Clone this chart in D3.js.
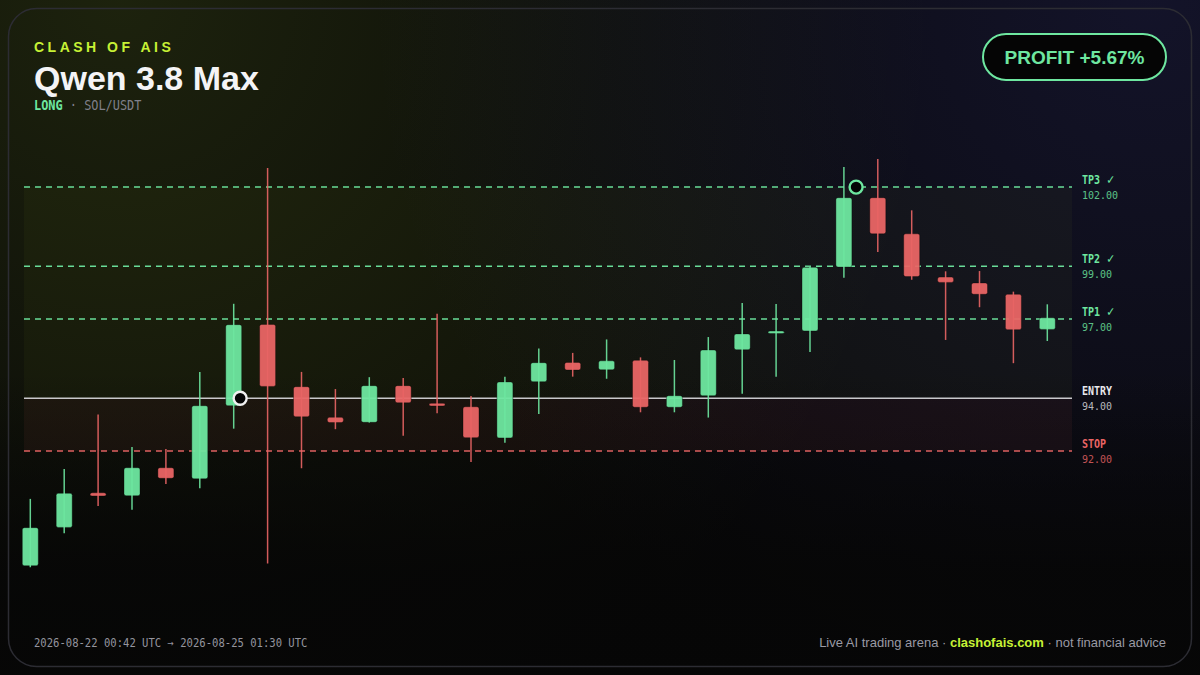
<!DOCTYPE html>
<html><head><meta charset="utf-8">
<script src="https://cdn.jsdelivr.net/npm/d3@7"></script>
<style>
html,body{margin:0;padding:0;background:#060606;}
svg{display:block;}
</style></head>
<body>
<svg id="c" width="1200" height="675"></svg>
<script>
// ---- data ----
const opens  = [87.66,89.11,90.42,90.31,91.37,90.95,93.72,96.80,94.44,93.28,93.09,94.48,93.81,93.68,92.50,94.63,95.36,95.08,95.44,93.66,94.10,95.84,96.46,96.55,98.97,101.60,100.23,98.59,98.37,97.94,96.61];
const highs  = [90.19,91.32,93.39,92.16,92.08,95.00,97.58,102.72,95.00,94.35,94.80,94.77,97.20,94.09,94.82,95.89,95.72,96.23,95.55,95.45,96.32,97.61,97.57,98.97,102.76,103.06,101.12,98.81,98.82,98.04,97.56];
const lows   = [87.60,88.89,89.92,89.78,90.75,90.59,92.85,87.74,91.35,92.83,93.08,92.58,93.43,91.59,92.32,93.41,94.82,94.74,93.47,93.47,93.27,94.17,94.82,95.75,98.57,99.54,98.49,96.21,97.45,95.33,96.17];
const closes = [89.10,90.40,90.30,91.37,90.97,93.72,96.79,94.45,93.30,93.08,94.48,93.83,93.71,92.51,94.62,95.35,95.07,95.42,93.66,94.10,95.83,96.44,96.54,98.96,101.60,100.23,98.61,98.39,97.94,96.60,97.05];
const levelNames  = ["TP3","TP2","TP1","ENTRY","STOP"];
const levelValues = [102,99,97,94,92];
const levelHit    = [true,true,true,false,false];
const entryIdx = 6.19, entryPrice = 94;
const exitIdx = 24.36, exitPrice = 102;
const titleKicker = "CLASH OF AIS";
const titleText = "Qwen 3.8 Max";
const side = "LONG", pair = "SOL/USDT";
const profitText = "PROFIT +5.67%";
const timeRange = "2026-08-22 00:42 UTC → 2026-08-25 01:30 UTC";

const GREEN = "#6ee7a0", RED = "#e96565", LIME = "#c6f135";
const SANS = "'Liberation Sans', Arial, sans-serif";
const MONO = "'DejaVu Sans Mono', monospace";

const svg = d3.select("#c");
const defs = svg.append("defs");
const g1 = defs.append("radialGradient").attr("id","glowL").attr("gradientUnits","userSpaceOnUse")
  .attr("cx",120).attr("cy",0).attr("r",820);
g1.append("stop").attr("offset",0).attr("stop-color","rgb(190,235,60)").attr("stop-opacity",0.12);
g1.append("stop").attr("offset",0.6).attr("stop-color","rgb(190,235,60)").attr("stop-opacity",0.04);
g1.append("stop").attr("offset",1).attr("stop-color","rgb(190,235,60)").attr("stop-opacity",0);
const g2 = defs.append("radialGradient").attr("id","glowR").attr("gradientUnits","userSpaceOnUse")
  .attr("cx",1150).attr("cy",0).attr("r",780);
g2.append("stop").attr("offset",0).attr("stop-color","rgb(80,80,210)").attr("stop-opacity",0.17);
g2.append("stop").attr("offset",1).attr("stop-color","rgb(80,80,210)").attr("stop-opacity",0);
const g3 = defs.append("linearGradient").attr("id","fade").attr("x1",0).attr("y1",0).attr("x2",0).attr("y2",1);
g3.append("stop").attr("offset",0.55).attr("stop-color","#060606").attr("stop-opacity",0);
g3.append("stop").attr("offset",0.85).attr("stop-color","#060606").attr("stop-opacity",0.85);

svg.append("rect").attr("width",1200).attr("height",675).attr("fill","#070707");
svg.append("rect").attr("width",1200).attr("height",675).attr("fill","url(#glowL)");
svg.append("rect").attr("width",1200).attr("height",675).attr("fill","url(#glowR)");
svg.append("rect").attr("width",1200).attr("height",675).attr("fill","url(#fade)");
svg.append("rect").attr("x",8.5).attr("y",8.5).attr("width",1183).attr("height",658).attr("rx",28)
  .attr("fill","none").attr("stroke","#2c2c33").attr("stroke-width",1.5);

// ---- scales ----
const plotL = 24, plotR = 1072;
const x = d3.scaleLinear().domain([0, opens.length-1]).range([30.3, 1047.3]);
const y = d3.scaleLinear().domain([92,102]).range([451.1,187.1]);

// zones
const yTop = y(levelValues[0]), yEntry = y(entryPrice), yStop = y(levelValues[4]);
svg.append("rect").attr("x",plotL).attr("width",plotR-plotL).attr("y",yTop).attr("height",yEntry-yTop)
  .attr("fill","rgb(190,230,60)").attr("opacity",0.035);
svg.append("rect").attr("x",plotL).attr("width",plotR-plotL).attr("y",yEntry).attr("height",yStop-yEntry)
  .attr("fill","rgb(232,100,100)").attr("opacity",0.06);

// condensed mono text helper
function monoText(px, py, size, sx) {
  return svg.append("text").attr("transform",`translate(${px},${py}) scale(${sx},1)`)
    .attr("font-family",MONO).attr("font-size",size);
}

// level lines
levelNames.forEach((n,i)=>{
  const yy = y(levelValues[i]);
  const isEntry = n==="ENTRY", isStop = n==="STOP";
  const col = isEntry ? "#e8e8ec" : isStop ? RED : GREEN;
  svg.append("line").attr("x1",plotL).attr("x2",plotR).attr("y1",yy).attr("y2",yy)
    .attr("stroke",isEntry ? "#d8d8dc" : col).attr("stroke-width",1.5)
    .attr("stroke-dasharray",isEntry?null:"6 5").attr("opacity",isEntry?0.92:0.95);
  const lab = monoText(1082, yy-3, 11.5, 0.87).attr("font-weight","bold").attr("fill",col);
  lab.append("tspan").text(n);
  if (levelHit[i]) lab.append("tspan").attr("dx",7).attr("font-family","'DejaVu Sans', sans-serif")
    .attr("font-weight","normal").attr("font-size",12.5).text("✓");
  monoText(1082, yy+12, 10.5, 0.95).attr("fill",isEntry ? "#b8b8be" : col)
    .attr("opacity",isEntry?1:0.82).text(levelValues[i].toFixed(2));
});

// candles
const data = opens.map((o,i)=>({i,o,h:highs[i],l:lows[i],c:closes[i]}));
const cg = svg.append("g");
const bw = 16;
data.forEach(d=>{
  const up = d.c >= d.o;
  const col = up ? GREEN : RED;
  const top = y(Math.max(d.o,d.c)), bot = y(Math.min(d.o,d.c));
  const h = Math.max(2.5, bot-top);
  cg.append("rect").attr("x",x(d.i)-bw/2).attr("y",(top+bot)/2-h/2).attr("width",bw).attr("height",h)
    .attr("rx",2).attr("fill",col).attr("fill-opacity",0.95)
    .attr("stroke","rgba(0,0,0,0.35)").attr("stroke-width",1);
  cg.append("line").attr("x1",x(d.i)).attr("x2",x(d.i)).attr("y1",y(d.h)).attr("y2",y(d.l))
    .attr("stroke",col).attr("stroke-width",1.5).attr("opacity",0.9);
});

// markers
svg.append("circle").attr("cx",x(entryIdx)).attr("cy",y(entryPrice)).attr("r",6.5)
  .attr("fill","#050505").attr("stroke","#f0f0f0").attr("stroke-width",2.4);
svg.append("circle").attr("cx",x(exitIdx)).attr("cy",y(exitPrice)).attr("r",6.5)
  .attr("fill","#050505").attr("stroke",GREEN).attr("stroke-width",2.4);

// header
svg.append("text").attr("x",34).attr("y",52).attr("font-family",SANS).attr("font-weight","bold")
  .attr("font-size",14).attr("letter-spacing","3.5px").attr("fill",LIME).text(titleKicker);
svg.append("text").attr("x",34).attr("y",90).attr("font-family",SANS).attr("font-weight","bold")
  .attr("font-size",34).attr("fill","#f4f4f6").text(titleText);
const sub = monoText(34, 109.5, 14, 0.85);
sub.append("tspan").attr("fill",GREEN).attr("font-weight","bold").text(side);
sub.append("tspan").attr("fill","#80808a").text(" · " + pair);

// badge
svg.append("rect").attr("x",983).attr("y",34).attr("width",183).attr("height",46).attr("rx",23)
  .attr("fill","#050505").attr("stroke",GREEN).attr("stroke-width",2);
svg.append("text").attr("x",1074.5).attr("y",64).attr("text-anchor","middle").attr("font-family",SANS)
  .attr("font-weight","bold").attr("font-size",19).attr("fill",GREEN).text(profitText);

// footer
monoText(34, 647, 11.5, 0.92).attr("fill","#94949e").text(timeRange);
const ft = svg.append("text").attr("x",1166).attr("y",647).attr("text-anchor","end")
  .attr("font-family",SANS).attr("font-size",13).attr("fill","#9a9aa4");
ft.append("tspan").text("Live AI trading arena · ");
ft.append("tspan").attr("fill",LIME).attr("font-weight","bold").text("clashofais.com");
ft.append("tspan").text(" · not financial advice");
</script>
</body></html>
